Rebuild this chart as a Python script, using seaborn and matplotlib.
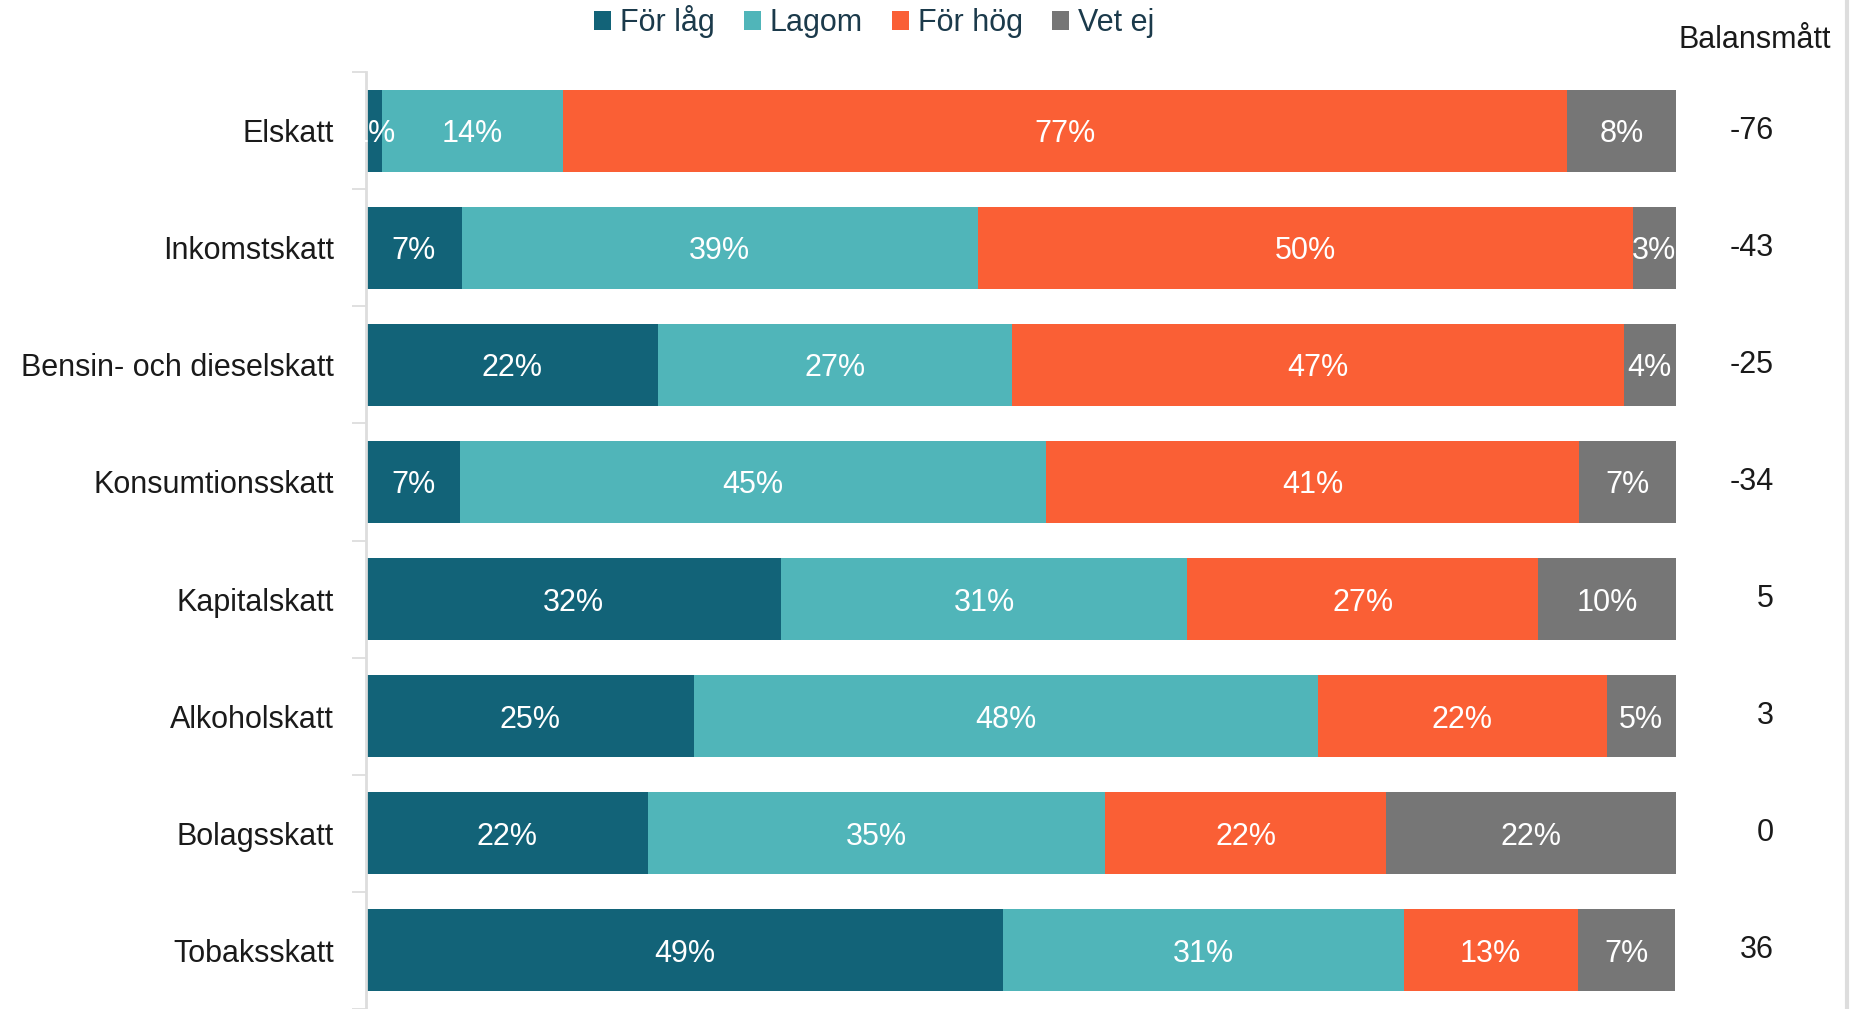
import numpy as np
import pandas as pd
import matplotlib
matplotlib.use("Agg")
import matplotlib.pyplot as plt
import seaborn as sns
from matplotlib.lines import Line2D
from matplotlib.patches import Patch
import matplotlib.transforms as mtransforms

categories = ["Elskatt", "Inkomstskatt", "Bensin- och dieselskatt", "Konsumtionsskatt",
              "Kapitalskatt", "Alkoholskatt", "Bolagsskatt", "Tobaksskatt"]
for_lag = [1.2, 7.3, 22.3, 7.2, 31.7, 25.0, 21.5, 48.6]
lagom = [13.8, 39.4, 27.0, 44.7, 31.0, 47.7, 34.9, 30.6]
for_hog = [76.7, 50.0, 46.7, 40.7, 26.8, 22.0, 21.5, 13.3]
vet_ej = [8.3, 3.3, 4.0, 7.4, 10.5, 5.3, 22.1, 7.4]
balans = ["-76", "-43", "-25", "-34", "5", "3", "0", "36"]
series_names = ["För låg", "Lagom", "För hög", "Vet ej"]
colors = ["#126378", "#50B5B9", "#FA5F35", "#767676"]

sns.set_theme(style="white")
plt.rcParams['font.family'] = ['Liberation Sans', 'DejaVu Sans']

FS = 22
series = [for_lag, lagom, for_hog, vet_ej]
cum = np.cumsum(np.array(series), axis=0)

fig = plt.figure(figsize=(18.51, 10.09), dpi=100)
ax = fig.add_axes([366/1851, 0.0, (1676-366)/1851, (1009-72)/1009])

df = pd.DataFrame({"cat": categories})
for i in range(3, -1, -1):
    df["v"] = cum[i]
    sns.barplot(data=df, y="cat", x="v", orient="h", color=colors[i], width=0.70,
                saturation=1, ax=ax, errorbar=None, order=categories,
                linewidth=0, edgecolor="none")

for i in range(4):
    for j, cat in enumerate(categories):
        v = series[i][j]
        center = cum[i][j] - v / 2
        ax.text(center, j, f"{round(v):d}%", ha="center", va="center_baseline",
                color="white", fontsize=FS)

ax.set_xlim(0, cum[3].max())
ax.set_ylim(len(categories) - 0.5, -0.5)
ax.set_xlabel("")
ax.set_ylabel("")
ax.set_xticks([])
ax.tick_params(axis="y", which="major", length=0, labelsize=FS, labelcolor="#1a1a1a", pad=23)
ax.set_yticks(np.arange(-0.5, len(categories) + 0.5, 1), minor=True)
ax.tick_params(axis="y", which="minor", left=True, length=10, width=1.3, color="#dddddd")
for s in ["top", "right", "bottom"]:
    ax.spines[s].set_visible(False)
ax.spines["left"].set_color("#dddddd")
ax.spines["left"].set_linewidth(2)

# Balance column
trans = mtransforms.blended_transform_factory(fig.transFigure, ax.transData)
for j, b in enumerate(balans):
    ax.text(1774/1851, j - 0.03, b, transform=trans, ha="right", va="center_baseline",
            fontsize=FS, color="#1a1a1a")
fig.text(1755/1851, 1 - 36/1009, "Balansmått", ha="center", va="center_baseline",
         fontsize=FS, color="#1a1a1a")

handles = [Patch(facecolor=c, edgecolor="none") for c in colors]
fig.legend(handles, series_names, loc="center", bbox_to_anchor=(874/1851, 1 - 22/1009),
           ncol=4, frameon=False, fontsize=FS, handlelength=0.55, handleheight=0.55,
           handletextpad=0.3, columnspacing=0.95, labelcolor="#1b3a4b")

fig.add_artist(Line2D([1847/1851, 1847/1851], [0, 1], color="#dddddd", lw=3))

fig.savefig("out.png", dpi=100, facecolor="white")
